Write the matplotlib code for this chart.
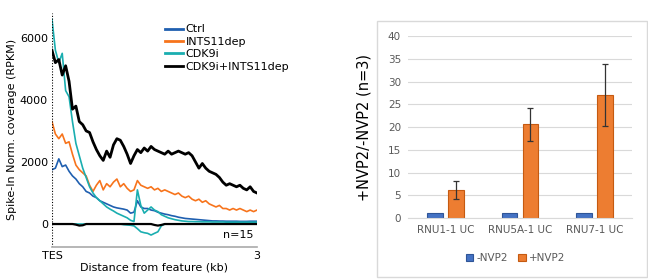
import numpy as np
import matplotlib
matplotlib.use("Agg")
from matplotlib import pyplot as plt
from matplotlib.patches import Rectangle

# metagene profiles, 0..3 kb downstream of TES (61 bins)
ctrl = [1750, 1800, 2100, 1850, 1900, 1700, 1550, 1450, 1300, 1200, 1050, 1000, 900, 850, 750,
        700, 650, 600, 550, 520, 500, 480, 450, 350, 380, 750, 550, 500, 500, 450, 430,
        380, 350, 320, 300, 270, 250, 220, 200, 180, 170, 160, 150, 140, 130, 120, 110,
        100, 100, 95, 95, 90, 90, 90, 90, 85, 85, 85, 90, 90, 90]
ints11 = [3300, 2900, 2750, 2900, 2600, 2650, 2250, 1900, 1750, 1650, 1550, 1250, 1050, 1250, 1400,
          1100, 1300, 1200, 1350, 1450, 1200, 1300, 1150, 1050, 1100, 1400, 1250, 1200, 1150, 1200, 1100,
          1150, 1050, 1100, 1050, 1000, 950, 1000, 900, 850, 900, 800, 750, 800, 700, 750, 650,
          600, 550, 600, 500, 500, 450, 500, 450, 500, 450, 400, 450, 400, 450]
cdk9i = [6600, 5600, 5200, 5500, 4300, 4100, 3300, 2600, 2200, 1800, 1500, 1200, 1000, 850, 750,
         650, 550, 480, 420, 350, 300, 250, 200, 120, 80, 1100, 600, 350, 450, 550, 450,
         400, 300, 250, 200, 170, 140, 120, 100, 90, 80, 80, 75, 75, 70, 70, 70,
         65, 65, 65, 65, 60, 60, 60, 60, 60, 60, 60, 60, 60, 60]
combo = [5600, 5200, 5300, 4800, 5100, 4600, 3700, 3800, 3300, 3200, 3000, 2950, 2650, 2400, 2200,
         2050, 2350, 2150, 2550, 2750, 2700, 2500, 2250, 1950, 2200, 2400, 2300, 2450, 2350, 2500, 2400,
         2350, 2300, 2250, 2350, 2250, 2300, 2350, 2300, 2250, 2300, 2200, 2000, 1800, 1950, 1800, 1700,
         1650, 1600, 1500, 1350, 1250, 1300, 1250, 1200, 1250, 1150, 1100, 1200, 1050, 1000]
# antisense traces
cdk9i_as = [0, 0, 0, 0, 0, 0, 0, 0, 0, 0, 0, 0, 0, 0, 0,
            0, 0, 0, 0, 0, 0, -20, -30, -40, -60, -150, -250, -280, -300, -355, -300,
            -250, -60, 0, 0, 0, 0, 0, 0, 0, 0, 0, 0, 0, 0, 0, 0,
            0, 0, 0, 0, 0, 0, 0, 0, 0, 0, 0, 0, 0, 0]
combo_as = [0, 0, 0, 0, 0, 0, 0, -20, -50, -40, 0, 0, 0, 0, 0,
            0, 0, 0, 0, 0, 0, 0, 0, 0, 0, 0, 0, 0, 0, 0, -30,
            -50, -30, 0, 0, 0, 0, 0, 0, 0, 0, 0, 0, 0, 0, 0, 0,
            0, 0, 0, 0, 0, 0, 0, 0, 0, 0, 0, 0, 0, 0]
dist = np.linspace(0, 3, len(ctrl))

# qPCR ratios
genes = ["RNU1-1 UC", "RNU5A-1 UC", "RNU7-1 UC"]
minus_nvp2 = [1.0, 1.0, 1.0]
plus_nvp2 = [6.1, 20.6, 27.1]
plus_err = [2.0, 3.6, 6.8]

fig = plt.figure(figsize=(6.48, 2.8), dpi=100)

# ---- left: metagene ----
ax = fig.add_axes([0.0802, 0.119, 0.3164, 0.8346])
ax.plot(dist, ctrl, color="#1f5fb0", lw=1.2, label="Ctrl")
ax.plot(dist, ints11, color="#f7741c", lw=1.2, label="INTS11dep")
ax.plot(dist, cdk9i, color="#1aaeb0", lw=1.2, label="CDK9i")
ax.plot(dist, combo, color="black", lw=2.0, label="CDK9i+INTS11dep")
ax.plot(dist, cdk9i_as, color="#1aaeb0", lw=1.2)
ax.plot(dist, combo_as, color="black", lw=1.6)
ax.axvline(0, color="black", lw=0.8, ls=(0, (1, 1.5)))
ax.set_xlim(0, 3)
ax.set_ylim(-730, 6800)
ax.set_yticks([0, 2000, 4000, 6000])
ax.set_xticks([0, 3])
ax.set_xticklabels(["TES", "3"])
ax.tick_params(length=0, labelsize=8, pad=3)
for s in ["left", "top", "right"]:
    ax.spines[s].set_visible(False)
ax.spines["bottom"].set_color("#aaaaaa")
ax.spines["bottom"].set_linewidth(1.2)
ax.set_xlabel("Distance from feature (kb)", fontsize=8, labelpad=1)
ax.set_ylabel("Spike-In Norm. coverage (RPKM)", fontsize=8, labelpad=2)
ax.text(2.95, -200, "n=15", ha="right", va="top", fontsize=8)
leg = ax.legend(loc="upper left", bbox_to_anchor=(0.53, 0.97), frameon=False, fontsize=8,
                handlelength=1.6, handletextpad=0.25, labelspacing=0.22, borderaxespad=0)
for h in leg.get_lines():
    h.set_linewidth(2)

# ---- right: bar chart ----
fig.add_artist(Rectangle((377 / 648, 3 / 280), 270 / 648, 256 / 280, transform=fig.transFigure,
                         fill=False, edgecolor="#d9d9d9", lw=1))
bx = fig.add_axes([0.6296, 0.2214, 0.3457, 0.65])
pos = np.arange(len(genes))
w = 0.21
bx.bar(pos - 0.14, minus_nvp2, w, color="#4472c4", edgecolor="#2f5597", lw=0.8, label="-NVP2")
bx.bar(pos + 0.14, plus_nvp2, w, color="#ed7d31", edgecolor="#c55a11", lw=0.8, label="+NVP2",
       yerr=plus_err, error_kw=dict(ecolor="#333333", elinewidth=0.9, capsize=2.5, capthick=0.9))
bx.set_xlim(-0.5, 2.5)
bx.set_ylim(0, 40)
bx.set_yticks(range(0, 41, 5))
bx.set_xticks(pos)
bx.set_xticklabels(genes)
bx.yaxis.grid(True, color="#d9d9d9", lw=0.8)
bx.set_axisbelow(True)
for s in ["left", "top", "right"]:
    bx.spines[s].set_visible(False)
bx.spines["bottom"].set_color("#d9d9d9")
bx.tick_params(length=0, labelsize=7.5, labelcolor="#595959", pad=5)
bx.set_ylabel("+NVP2/-NVP2 (n=3)", fontsize=10.5, labelpad=12)
bx.legend(loc="upper center", bbox_to_anchor=(0.48, -0.14), ncol=2, frameon=False, fontsize=7.5,
          handlelength=0.7, handleheight=0.7, handletextpad=0.3, columnspacing=1.0,
          labelcolor="#595959")

fig.savefig("out.png", dpi=100)
